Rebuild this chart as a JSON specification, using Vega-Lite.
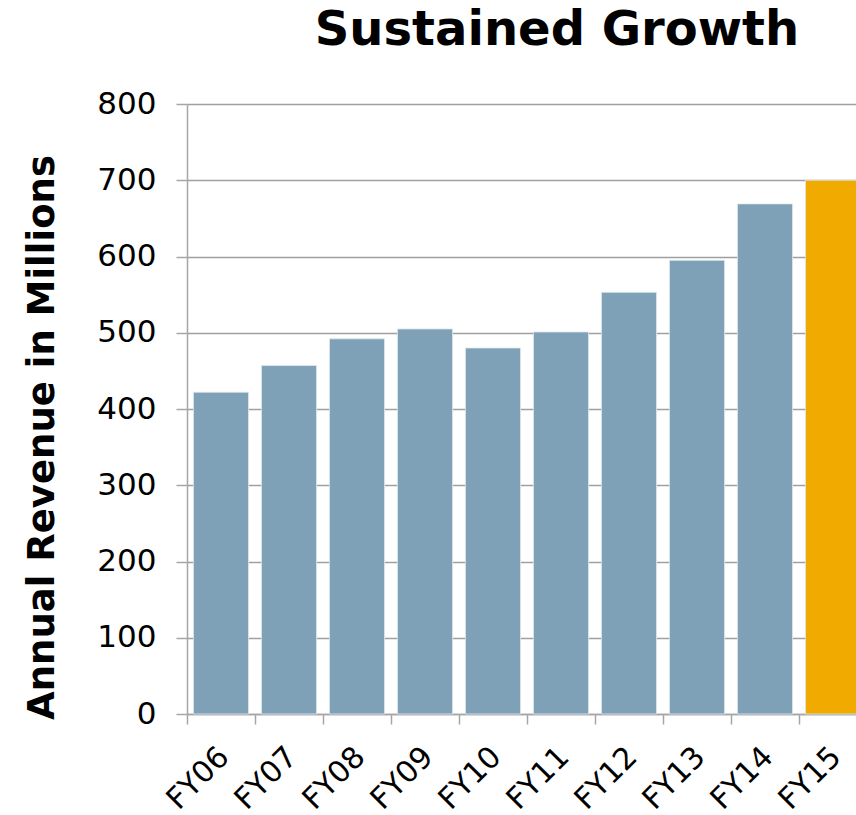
{
  "$schema": "https://vega.github.io/schema/vega-lite/v6.json",
  "autosize": "none",
  "padding": {"left": 187, "top": 104, "right": 0, "bottom": 101},
  "width": 680,
  "height": 610,
  "background": "white",
  "title": {
    "text": "Sustained Growth",
    "font": "DejaVu Sans",
    "fontSize": 48,
    "fontWeight": "bold",
    "color": "#000000",
    "anchor": "middle",
    "frame": "group",
    "baseline": "alphabetic",
    "dx": 30,
    "offset": -5
  },
  "data": {
    "values": [
      {"year": "FY06", "revenue": 422, "status": "reported"},
      {"year": "FY07", "revenue": 457, "status": "reported"},
      {"year": "FY08", "revenue": 492, "status": "reported"},
      {"year": "FY09", "revenue": 505, "status": "reported"},
      {"year": "FY10", "revenue": 480, "status": "reported"},
      {"year": "FY11", "revenue": 501, "status": "reported"},
      {"year": "FY12", "revenue": 553, "status": "reported"},
      {"year": "FY13", "revenue": 595, "status": "reported"},
      {"year": "FY14", "revenue": 669, "status": "reported"},
      {"year": "FY15", "revenue": 700, "status": "projected"}
    ]
  },
  "mark": {"type": "bar", "stroke": "#dfe7ee", "strokeWidth": 0.8},
  "encoding": {
    "x": {
      "field": "year",
      "type": "nominal",
      "sort": null,
      "scale": {"paddingInner": 0.19, "paddingOuter": 0.095},
      "axis": {
        "title": null,
        "labelAngle": -45,
        "labelAlign": "right",
        "labelBaseline": "middle",
        "labelFont": "DejaVu Sans",
        "labelFontSize": 30,
        "labelColor": "#000000",
        "labelPadding": 28,
        "bandPosition": 0.5,
        "tickOffset": -34,
        "labelOffset": 37,
        "ticks": true,
        "tickSize": 10,
        "tickColor": "#a6a6a6",
        "tickWidth": 1.5,
        "domainColor": "#a6a6a6",
        "domainWidth": 1.5,
        "grid": false
      }
    },
    "y": {
      "field": "revenue",
      "type": "quantitative",
      "scale": {"domain": [0, 800], "nice": false},
      "axis": {
        "title": "Annual Revenue in Millions",
        "titleFont": "DejaVu Sans",
        "titleFontSize": 37,
        "titleFontWeight": "bold",
        "titleColor": "#000000",
        "titleAngle": -90,
        "titleAlign": "center",
        "titleBaseline": "alphabetic",
        "titleX": -134,
        "titleY": 333,
        "values": [0, 100, 200, 300, 400, 500, 600, 700, 800],
        "labelFont": "DejaVu Sans",
        "labelFontSize": 31,
        "labelColor": "#000000",
        "labelPadding": 20,
        "tickSize": 11,
        "tickColor": "#a6a6a6",
        "tickWidth": 1.5,
        "domainColor": "#a6a6a6",
        "domainWidth": 1.5,
        "grid": true,
        "gridColor": "#a0a0a0",
        "gridWidth": 1.5
      }
    },
    "color": {
      "field": "status",
      "type": "nominal",
      "scale": {"domain": ["reported", "projected"], "range": ["#7fa1b7", "#f0aa00"]},
      "legend": null
    }
  },
  "config": {"view": {"stroke": null}}
}
